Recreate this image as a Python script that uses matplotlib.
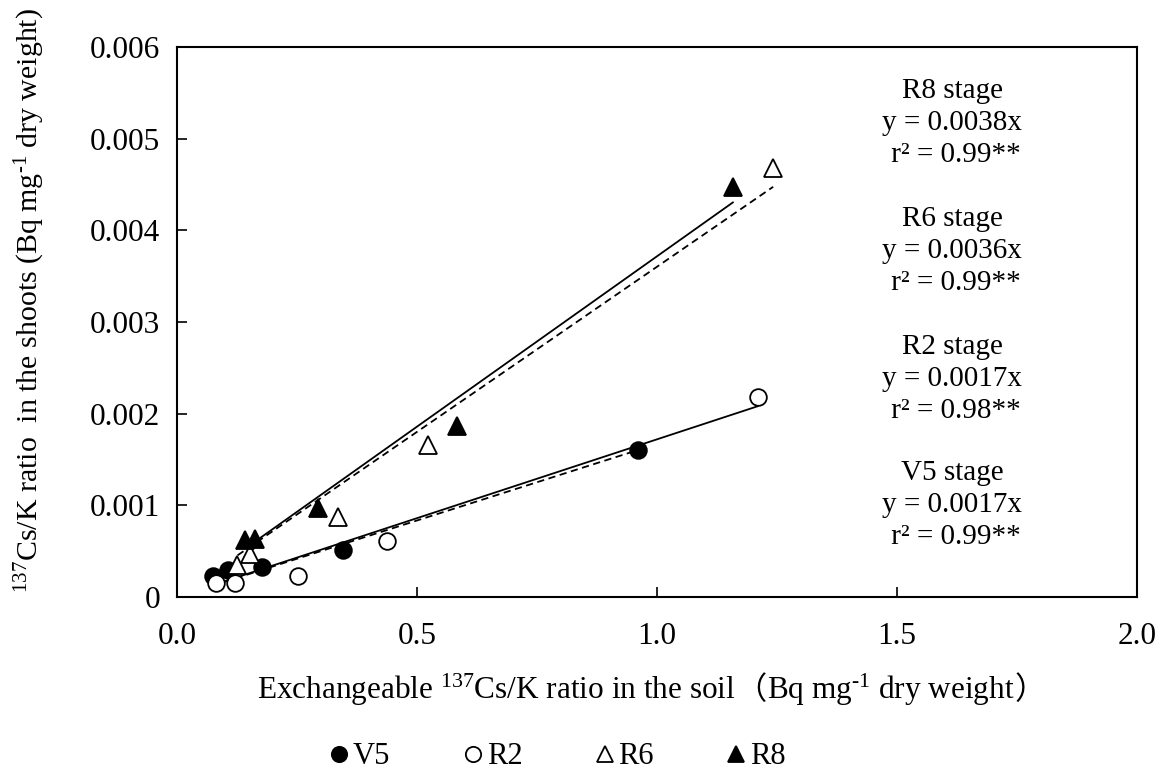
import numpy as np
import matplotlib
matplotlib.use("Agg")
import matplotlib.pyplot as plt
from matplotlib.lines import Line2D
from matplotlib.ticker import FuncFormatter, MultipleLocator
from matplotlib.offsetbox import TextArea, HPacker, AnchoredOffsetbox

plt.rcParams["font.family"] = ["Liberation Serif", "Noto Sans CJK JP"]
plt.rcParams["mathtext.fontset"] = "custom"
plt.rcParams["mathtext.rm"] = "Liberation Serif"
plt.rcParams["mathtext.it"] = "Liberation Serif:italic"
plt.rcParams["mathtext.default"] = "regular"

# ── Data ──────────────────────────────────────────────────────────────────────
v5_x = [0.075, 0.106, 0.178, 0.346, 0.960]
v5_y = [0.00023, 0.00029, 0.00033, 0.00051, 0.00160]
r2_x = [0.082, 0.121, 0.252, 0.437, 1.210]
r2_y = [0.00015, 0.00015, 0.00023, 0.00061, 0.00218]
r6_x = [0.126, 0.152, 0.335, 0.523, 1.242]
r6_y = [0.00035, 0.00047, 0.00087, 0.00166, 0.00468]
r8_x = [0.142, 0.163, 0.294, 0.583, 1.158]
r8_y = [0.00062, 0.00063, 0.00097, 0.00187, 0.00447]

stages = ["R8", "R6", "R2", "V5"]
slopes_txt = ["0.0038", "0.0036", "0.0017", "0.0017"]
r2_txt = ["0.99", "0.99", "0.98", "0.99"]
label_y = [0.00517, 0.00377, 0.00238, 0.00100]

series = [
    # x, y, marker, face, line style of the zero-intercept trend line
    (v5_x, v5_y, "o", "black", "--"),
    (r2_x, r2_y, "o", "white", "-"),
    (r6_x, r6_y, "^", "white", "--"),
    (r8_x, r8_y, "^", "black", "-"),
]

fig = plt.figure(figsize=(11.6, 7.74), dpi=100)
ax = fig.add_axes([0.1526, 0.2287, 0.8276, 0.7106])

for x, y, mk, fc, ls in series:
    x = np.array(x)
    y = np.array(y)
    slope = np.sum(x * y) / np.sum(x * x)   # trend line forced through origin
    xl = np.array([x.min(), x.max()])
    ax.plot(xl, slope * xl, color="black", lw=1.3, ls=ls,
            dashes=(4, 2.5) if ls == "--" else (None, None), zorder=2)
    ax.plot(x, y, ls="none", marker=mk, ms=12 if mk == "o" else 13,
            mfc=fc, mec="black", mew=1.3, zorder=3)

for st, sl, rr, yy in zip(stages, slopes_txt, r2_txt, label_y):
    ax.text(1.615, yy, f"{st} stage\ny = {sl}x\n r² = {rr}**", ha="center", va="center",
            fontsize=21, linespacing=1.3, multialignment="center")

ax.set_xlim(0, 2.0)
ax.set_ylim(0, 0.006)
ax.xaxis.set_major_locator(MultipleLocator(0.5))
ax.yaxis.set_major_locator(MultipleLocator(0.001))
ax.xaxis.set_major_formatter(FuncFormatter(lambda v, p: f"{v:.1f}"))
ax.yaxis.set_major_formatter(FuncFormatter(lambda v, p: "0" if v == 0 else f"{v:.3f}"))
ax.tick_params(axis="both", direction="in", length=7, width=1.2, labelsize=22.5)
ax.tick_params(axis="y", pad=12)
ax.tick_params(axis="x", pad=18)
for s in ax.spines.values():
    s.set_linewidth(1.5)

# x label: mixed Latin + full-width brackets, packed from separate pieces
parts = [
    ("Exchangeable $^{137}$Cs/K ratio in the soil", "Liberation Serif"),
    ("（", "Noto Sans CJK JP"),
    ("Bq mg$^{\\text{-1}}$ dry weight", "Liberation Serif"),
    ("）", "Noto Sans CJK JP"),
]
boxes = [TextArea(t, textprops=dict(fontsize=22.5, family=f)) for t, f in parts]
xlab = AnchoredOffsetbox(loc="center", child=HPacker(children=boxes, pad=0, sep=0, align="baseline"),
                         frameon=False, bbox_to_anchor=(0.494, -0.169),
                         bbox_transform=ax.transAxes, borderpad=0, pad=0)
ax.add_artist(xlab)

ax.set_ylabel("$^{137}$Cs/K ratio  in the shoots (Bq mg$^{\\text{-1}}$ dry weight)", fontsize=21.5)
ax.yaxis.label.set_va("center")
ax.yaxis.set_label_coords(-0.153, 0.54)

handles = [Line2D([], [], ls="none", marker=mk, ms=11 if mk == "o" else 12, mfc=fc, mec="black", mew=1.3)
           for _, _, mk, fc, _ in series]
fig.legend(handles, ["V5", "R2", "R6", "R8"], loc="center", bbox_to_anchor=(0.481, 0.022),
           ncol=4, frameon=False, fontsize=22, handlelength=0.6, handletextpad=0.15,
           columnspacing=2.4)

fig.savefig("out.png", dpi=100)
